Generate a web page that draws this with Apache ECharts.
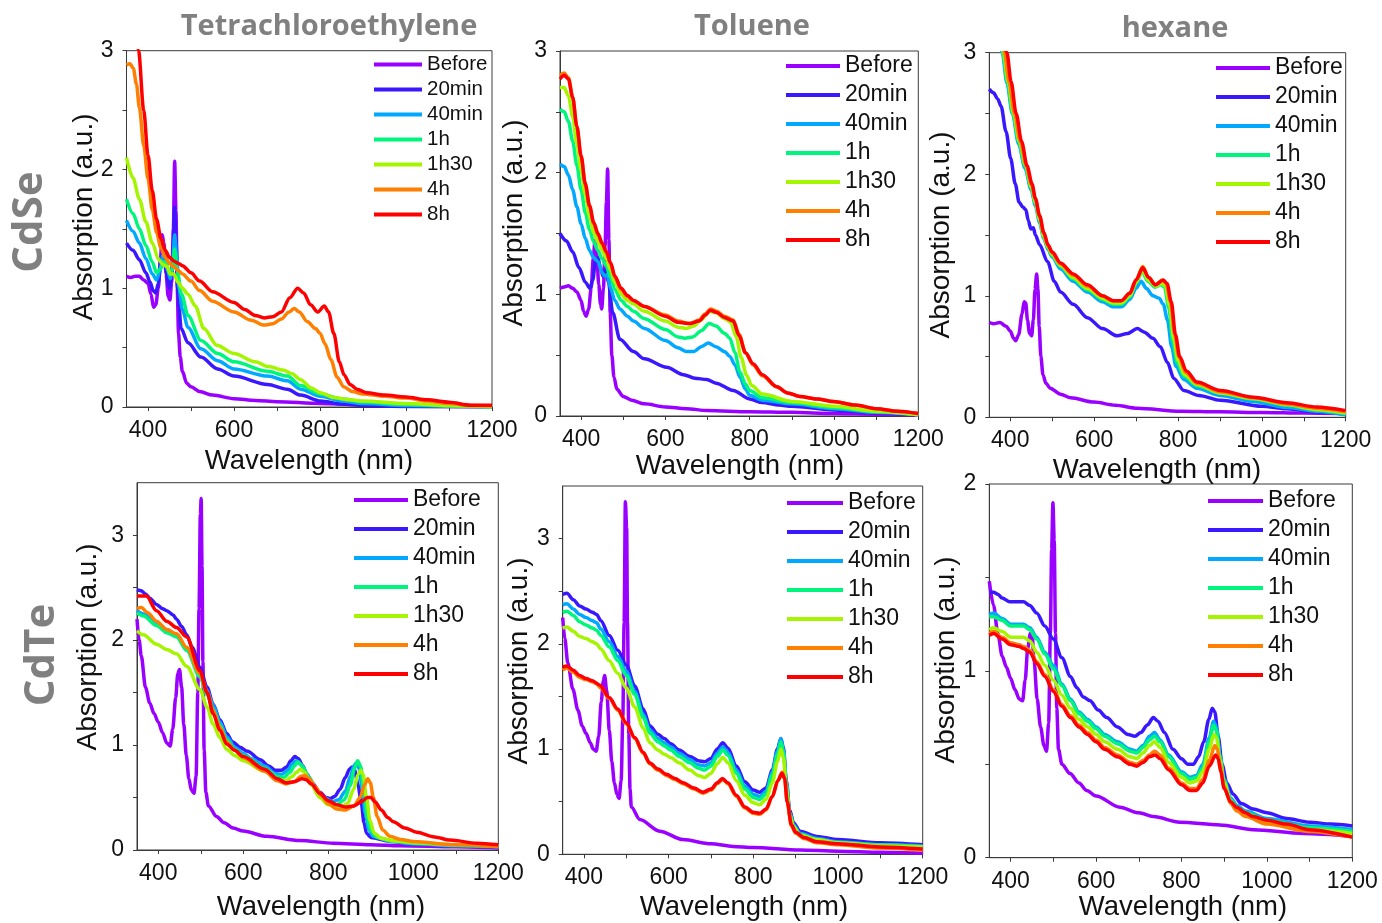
<!DOCTYPE html>
<html>
<head>
<meta charset="utf-8">
<title>Absorption spectra</title>
<script src="https://cdn.jsdelivr.net/npm/echarts@6/dist/echarts.min.js"></script>
<style>
  html, body { margin: 0; padding: 0; background: #fff; }
  #chart { width: 1382px; height: 923px; }
</style>
</head>
<body>
<div id="chart"></div>
<script>
// Series labels and colours (time after exposure)
const SERIES_NAMES = ['Before', '20min', '40min', '1h', '1h30', '4h', '8h'];
const COLORS = ['#9a00ff', '#3a18ff', '#00a8ff', '#00f57c', '#a6f500', '#ff7f00', '#ff0000'];

// Axis ticks
const X_LABELS = [400, 600, 800, 1000, 1200];
const X_TICKS = [400, 500, 600, 700, 800, 900, 1000, 1100, 1200];
const Y_LABELS_3 = [0, 1, 2, 3];
const Y_TICKS_3 = [0, 0.5, 1, 1.5, 2, 2.5, 3];
const Y_LABELS_2 = [0, 1, 2];
const Y_TICKS_2 = [0, 0.5, 1, 1.5, 2];

const ROW_TITLES = ['CdSe', 'CdTe'];
const COL_TITLES = ['Tetrachloroethylene', 'Toluene', 'hexane'];

// Spectra: each series is a flat list of (wavelength nm, absorption) pairs.
// CdSe in tetrachloroethylene
const cdseTce = [
  [350,1.1, 360,1.09, 370,1.1, 380,1.1, 390,1.07, 400,1.04, 407,0.95, 413,0.84, 418,0.86, 424,1.0, 429,1.25, 433,1.45, 437,1.38, 442,1.12, 447,0.93, 451,0.9, 455,1.05, 459,1.5, 462,2.07, 465,1.65, 468,1.0, 471,0.62, 475,0.42, 480,0.3, 490,0.2, 500,0.17, 520,0.13, 550,0.1, 600,0.07, 650,0.055, 700,0.045, 800,0.03, 900,0.02, 1000,0.015, 1200,0.01],
  [350,1.38, 365,1.32, 380,1.24, 395,1.13, 405,1.05, 412,0.98, 418,0.96, 424,1.04, 430,1.22, 435,1.3, 440,1.25, 445,1.08, 450,1.0, 455,1.1, 459,1.35, 462,1.68, 465,1.4, 470,0.95, 477,0.66, 493,0.54, 523,0.42, 562,0.32, 600,0.26, 678,0.19, 724,0.15, 755,0.1, 801,0.05, 850,0.025, 900,0.012, 1000,0.004, 1200,0],
  [350,1.57, 365,1.48, 380,1.38, 395,1.25, 410,1.12, 420,1.07, 428,1.15, 435,1.28, 440,1.27, 446,1.15, 452,1.08, 457,1.18, 462,1.45, 466,1.3, 472,1.0, 480,0.82, 493,0.67, 523,0.49, 562,0.39, 600,0.32, 678,0.26, 724,0.22, 755,0.15, 801,0.09, 850,0.05, 900,0.03, 1000,0.012, 1200,0],
  [350,1.75, 365,1.63, 380,1.5, 395,1.36, 410,1.22, 420,1.13, 428,1.16, 436,1.22, 442,1.22, 450,1.12, 456,1.15, 462,1.33, 468,1.15, 478,0.95, 493,0.77, 523,0.56, 562,0.45, 600,0.38, 678,0.3, 724,0.26, 755,0.18, 801,0.11, 850,0.07, 900,0.045, 1000,0.02, 1100,0.008, 1200,0],
  [350,2.1, 365,1.93, 380,1.75, 395,1.56, 410,1.38, 425,1.24, 435,1.2, 445,1.18, 452,1.12, 460,1.12, 470,1.05, 480,1.0, 493,0.95, 510,0.85, 530,0.66, 560,0.52, 600,0.45, 650,0.38, 680,0.34, 716,0.31, 735,0.28, 755,0.23, 780,0.16, 801,0.12, 832,0.08, 870,0.06, 900,0.05, 1000,0.03, 1100,0.012, 1200,0],
  [350,2.88, 358,2.89, 366,2.85, 373,2.72, 380,2.52, 390,2.2, 400,1.92, 410,1.66, 420,1.47, 430,1.34, 440,1.26, 450,1.21, 460,1.18, 470,1.15, 480,1.12, 500,1.06, 520,0.98, 550,0.89, 600,0.8, 640,0.73, 670,0.69, 690,0.7, 710,0.74, 728,0.8, 740,0.83, 752,0.8, 770,0.72, 790,0.66, 800,0.62, 812,0.53, 825,0.4, 840,0.25, 855,0.17, 875,0.13, 900,0.11, 950,0.09, 1000,0.075, 1050,0.05, 1100,0.03, 1150,0.012, 1200,0.01],
  [365,3.3, 378,3.0, 390,2.5, 400,2.12, 410,1.82, 420,1.58, 430,1.42, 440,1.32, 450,1.26, 460,1.23, 470,1.21, 480,1.19, 500,1.13, 520,1.06, 550,0.97, 600,0.88, 625,0.82, 650,0.77, 670,0.75, 690,0.76, 710,0.8, 730,0.92, 748,1.0, 762,0.96, 778,0.86, 795,0.8, 810,0.85, 820,0.8, 832,0.62, 845,0.38, 856,0.27, 870,0.19, 886,0.15, 909,0.12, 950,0.1, 1000,0.085, 1050,0.06, 1100,0.04, 1150,0.015, 1200,0.015]
];

// CdSe in toluene
const cdseTol = [
  [350,1.05, 360,1.06, 370,1.07, 380,1.05, 390,1.02, 400,0.95, 406,0.86, 412,0.82, 418,0.88, 424,1.05, 429,1.3, 433,1.44, 437,1.33, 442,1.08, 446,0.92, 449,0.88, 453,1.05, 457,1.4, 460,1.75, 463,2.03, 466,1.45, 469,0.85, 473,0.5, 478,0.32, 485,0.22, 500,0.16, 520,0.13, 550,0.1, 600,0.075, 650,0.06, 700,0.045, 800,0.035, 900,0.03, 1000,0.02, 1100,0.015, 1200,0.01],
  [350,1.5, 365,1.44, 380,1.35, 395,1.22, 410,1.1, 421,1.05, 428,1.12, 434,1.28, 440,1.3, 446,1.22, 452,1.15, 458,1.2, 465,1.1, 475,0.85, 492,0.63, 524,0.53, 550,0.47, 603,0.4, 643,0.34, 670,0.31, 698,0.3, 720,0.27, 761,0.21, 800,0.14, 830,0.11, 870,0.09, 900,0.08, 1000,0.05, 1100,0.025, 1200,0.01],
  [350,2.07, 360,2.05, 370,1.98, 380,1.86, 390,1.72, 400,1.58, 410,1.46, 420,1.36, 430,1.3, 440,1.27, 450,1.18, 456,1.15, 462,1.16, 470,1.05, 480,0.95, 492,0.88, 510,0.82, 524,0.78, 550,0.72, 600,0.62, 630,0.56, 650,0.53, 668,0.53, 685,0.57, 702,0.6, 720,0.57, 740,0.53, 753,0.49, 765,0.42, 777,0.32, 790,0.22, 800,0.17, 830,0.13, 900,0.1, 1000,0.06, 1100,0.03, 1200,0.01],
  [350,2.52, 360,2.5, 370,2.42, 380,2.26, 390,2.06, 400,1.86, 410,1.67, 420,1.53, 430,1.43, 440,1.36, 450,1.29, 460,1.23, 470,1.14, 480,1.04, 495,0.95, 510,0.9, 524,0.86, 550,0.8, 600,0.71, 630,0.65, 646,0.64, 665,0.65, 685,0.7, 704,0.76, 720,0.74, 740,0.68, 753,0.64, 765,0.52, 777,0.36, 790,0.26, 800,0.21, 830,0.15, 900,0.11, 1000,0.07, 1100,0.035, 1200,0.01],
  [350,2.7, 360,2.7, 370,2.63, 380,2.46, 390,2.24, 400,2.02, 410,1.82, 420,1.64, 430,1.51, 440,1.43, 450,1.36, 460,1.29, 470,1.2, 480,1.1, 495,1.0, 510,0.95, 524,0.92, 550,0.86, 600,0.78, 630,0.73, 650,0.72, 668,0.74, 685,0.79, 704,0.86, 720,0.85, 740,0.8, 755,0.77, 768,0.65, 780,0.48, 792,0.34, 805,0.25, 830,0.18, 900,0.12, 1000,0.08, 1100,0.04, 1200,0.01],
  [350,2.8, 360,2.82, 370,2.78, 380,2.62, 390,2.38, 400,2.13, 410,1.9, 420,1.72, 430,1.58, 440,1.49, 450,1.41, 460,1.34, 470,1.25, 480,1.14, 495,1.04, 510,0.98, 524,0.95, 550,0.9, 600,0.83, 630,0.78, 658,0.76, 680,0.79, 695,0.84, 707,0.88, 722,0.86, 740,0.82, 761,0.79, 775,0.67, 790,0.52, 808,0.42, 830,0.33, 864,0.24, 890,0.19, 919,0.16, 960,0.14, 998,0.12, 1050,0.09, 1101,0.06, 1150,0.04, 1200,0.02],
  [350,2.77, 360,2.8, 370,2.77, 380,2.62, 390,2.38, 400,2.14, 410,1.91, 420,1.73, 430,1.59, 440,1.5, 450,1.42, 460,1.35, 470,1.26, 480,1.15, 495,1.05, 510,0.99, 524,0.95, 550,0.9, 600,0.82, 630,0.77, 658,0.76, 680,0.78, 695,0.83, 707,0.87, 722,0.85, 740,0.81, 761,0.78, 775,0.66, 790,0.52, 808,0.43, 830,0.34, 864,0.24, 890,0.19, 919,0.16, 960,0.14, 998,0.12, 1050,0.09, 1101,0.06, 1150,0.04, 1200,0.02]
];

// CdSe in hexane
const cdseHex = [
  [350,0.78, 360,0.77, 375,0.78, 390,0.75, 400,0.71, 408,0.65, 413,0.63, 420,0.68, 428,0.85, 433,0.95, 437,0.94, 441,0.8, 446,0.69, 451,0.67, 455,0.8, 459,1.05, 463,1.18, 466,1.05, 469,0.75, 473,0.5, 478,0.35, 485,0.28, 495,0.24, 520,0.19, 544,0.16, 600,0.125, 650,0.1, 703,0.075, 806,0.05, 900,0.045, 1000,0.04, 1100,0.035, 1200,0.03],
  [350,2.7, 360,2.67, 370,2.62, 378,2.56, 390,2.35, 401,2.13, 412,1.92, 421,1.77, 430,1.73, 437,1.71, 443,1.62, 449,1.55, 455,1.56, 460,1.5, 470,1.42, 489,1.28, 505,1.12, 520,1.03, 550,0.93, 584,0.82, 620,0.73, 655,0.67, 680,0.69, 703,0.73, 720,0.7, 740,0.65, 758,0.58, 775,0.45, 790,0.32, 814,0.22, 850,0.18, 901,0.14, 1000,0.09, 1060,0.07, 1130,0.045, 1200,0.025],
  [360,3.45, 372,3.2, 381,3.0, 392,2.75, 405,2.5, 420,2.25, 435,2.05, 450,1.87, 460,1.74, 470,1.6, 480,1.47, 490,1.38, 500,1.32, 520,1.22, 550,1.12, 584,1.03, 620,0.95, 645,0.91, 665,0.91, 685,0.97, 700,1.06, 712,1.12, 725,1.06, 740,1.0, 755,0.98, 765,0.93, 775,0.8, 785,0.58, 795,0.42, 814,0.31, 845,0.24, 901,0.18, 980,0.13, 1060,0.08, 1130,0.05, 1200,0.02],
  [360,3.48, 372,3.22, 382,3.0, 393,2.76, 406,2.5, 420,2.27, 435,2.07, 450,1.89, 460,1.76, 470,1.62, 480,1.48, 490,1.39, 500,1.33, 520,1.24, 550,1.14, 584,1.05, 620,0.97, 645,0.93, 665,0.93, 685,0.99, 700,1.1, 714,1.2, 728,1.12, 745,1.07, 760,1.09, 768,1.07, 778,0.9, 788,0.62, 798,0.45, 814,0.34, 845,0.26, 901,0.2, 980,0.15, 1060,0.1, 1130,0.06, 1200,0.03],
  [362,3.48, 374,3.22, 384,3.0, 395,2.76, 408,2.5, 422,2.27, 437,2.07, 450,1.9, 460,1.77, 470,1.63, 480,1.49, 490,1.4, 500,1.34, 520,1.25, 550,1.15, 584,1.06, 620,0.98, 645,0.94, 665,0.94, 685,1.0, 700,1.11, 715,1.21, 729,1.13, 746,1.08, 762,1.1, 770,1.08, 780,0.92, 790,0.65, 800,0.47, 816,0.35, 845,0.27, 901,0.2, 980,0.155, 1060,0.105, 1130,0.065, 1200,0.035],
  [364,3.48, 376,3.22, 386,3.0, 397,2.76, 410,2.5, 424,2.27, 438,2.07, 451,1.91, 460,1.79, 470,1.65, 480,1.51, 490,1.41, 500,1.35, 520,1.26, 550,1.17, 584,1.08, 620,1.0, 645,0.96, 665,0.96, 685,1.02, 700,1.13, 716,1.24, 730,1.15, 746,1.09, 763,1.13, 772,1.1, 782,0.95, 792,0.68, 802,0.5, 818,0.37, 845,0.28, 901,0.21, 980,0.16, 1060,0.11, 1130,0.075, 1200,0.045],
  [366,3.48, 378,3.22, 392,3.0, 402,2.76, 414,2.5, 427,2.27, 440,2.07, 452,1.92, 460,1.8, 470,1.66, 480,1.52, 490,1.42, 500,1.36, 520,1.27, 550,1.18, 584,1.09, 620,1.0, 645,0.96, 665,0.96, 685,1.02, 700,1.13, 716,1.23, 730,1.15, 746,1.09, 765,1.13, 774,1.1, 784,0.95, 794,0.68, 804,0.5, 820,0.38, 845,0.29, 901,0.22, 980,0.165, 1060,0.12, 1130,0.085, 1200,0.055]
];

// CdTe in tetrachloroethylene
const cdteTce = [
  [350,2.2, 355,2.0, 360,1.85, 370,1.55, 380,1.4, 390,1.3, 400,1.22, 410,1.12, 420,1.02, 428,0.99, 434,1.15, 441,1.45, 446,1.68, 450,1.72, 455,1.55, 460,1.2, 466,0.9, 472,0.68, 478,0.57, 484,0.54, 489,0.7, 493,1.5, 496,2.3, 499,3.2, 501,3.35, 503,2.7, 505,1.8, 508,0.95, 512,0.55, 518,0.42, 537,0.32, 555,0.26, 576,0.21, 600,0.18, 655,0.13, 733,0.09, 812,0.065, 900,0.05, 969,0.04, 1100,0.03, 1200,0.02],
  [350,2.48, 360,2.47, 370,2.44, 380,2.4, 396,2.34, 410,2.3, 420,2.28, 435,2.24, 443,2.2, 455,2.13, 467,2.05, 480,1.93, 498,1.74, 515,1.55, 529,1.39, 545,1.24, 561,1.11, 575,1.03, 592,0.98, 610,0.94, 640,0.86, 660,0.8, 675,0.76, 690,0.76, 702,0.79, 712,0.85, 721,0.89, 730,0.87, 740,0.8, 750,0.72, 762,0.64, 780,0.55, 795,0.5, 805,0.49, 815,0.51, 828,0.58, 840,0.69, 850,0.77, 856,0.79, 862,0.76, 870,0.62, 878,0.44, 884,0.26, 890,0.16, 900,0.12, 950,0.08, 1000,0.06, 1100,0.04, 1200,0.03],
  [350,2.28, 365,2.25, 396,2.17, 420,2.1, 443,2.05, 467,1.92, 498,1.68, 515,1.52, 529,1.38, 545,1.22, 561,1.08, 580,0.98, 600,0.92, 620,0.87, 650,0.8, 675,0.73, 690,0.72, 705,0.76, 715,0.82, 725,0.85, 735,0.82, 750,0.72, 770,0.58, 790,0.5, 810,0.46, 825,0.48, 840,0.56, 852,0.7, 860,0.8, 866,0.83, 872,0.78, 880,0.58, 887,0.35, 895,0.2, 905,0.13, 950,0.08, 1000,0.06, 1100,0.04, 1200,0.03],
  [350,2.26, 365,2.23, 396,2.14, 420,2.07, 443,2.03, 467,1.9, 498,1.65, 515,1.48, 529,1.34, 545,1.19, 561,1.05, 580,0.96, 600,0.9, 650,0.78, 680,0.7, 695,0.69, 710,0.74, 720,0.8, 729,0.84, 738,0.8, 755,0.69, 775,0.55, 800,0.46, 820,0.43, 838,0.48, 852,0.62, 862,0.78, 869,0.85, 876,0.8, 884,0.55, 892,0.3, 900,0.18, 915,0.12, 950,0.085, 1000,0.065, 1100,0.045, 1200,0.035],
  [350,2.09, 365,2.05, 396,1.96, 420,1.91, 443,1.87, 467,1.75, 498,1.53, 515,1.36, 529,1.2, 545,1.07, 561,0.96, 580,0.9, 600,0.85, 650,0.75, 680,0.67, 700,0.66, 715,0.7, 725,0.74, 734,0.77, 744,0.74, 760,0.62, 780,0.5, 800,0.43, 825,0.4, 845,0.44, 860,0.58, 870,0.72, 876,0.76, 882,0.72, 890,0.5, 898,0.28, 908,0.16, 925,0.11, 960,0.085, 1000,0.07, 1100,0.05, 1200,0.04],
  [350,2.3, 360,2.31, 375,2.26, 396,2.18, 420,2.1, 443,2.06, 467,1.93, 498,1.68, 515,1.5, 529,1.33, 545,1.17, 561,1.03, 580,0.95, 600,0.88, 650,0.75, 680,0.66, 700,0.63, 720,0.65, 735,0.7, 745,0.71, 755,0.68, 770,0.6, 785,0.51, 800,0.44, 820,0.39, 840,0.38, 860,0.42, 875,0.5, 885,0.62, 893,0.68, 899,0.64, 906,0.5, 915,0.32, 928,0.19, 945,0.13, 970,0.1, 1000,0.08, 1100,0.05, 1200,0.03],
  [350,2.42, 372,2.42, 396,2.28, 420,2.18, 443,2.12, 467,2.03, 498,1.71, 515,1.5, 529,1.3, 545,1.14, 561,1.01, 580,0.95, 600,0.89, 650,0.77, 680,0.68, 700,0.64, 720,0.65, 738,0.68, 748,0.67, 760,0.63, 780,0.54, 800,0.47, 820,0.43, 840,0.41, 860,0.42, 878,0.46, 892,0.5, 900,0.5, 910,0.46, 925,0.38, 940,0.31, 953,0.27, 980,0.21, 1008,0.17, 1050,0.125, 1086,0.095, 1150,0.065, 1200,0.05]
];

// CdTe in toluene
const cdteTol = [
  [350,2.25, 355,2.05, 362,1.82, 374,1.57, 386,1.37, 396,1.22, 405,1.15, 415,1.06, 422,1.0, 429,0.98, 435,1.12, 441,1.45, 446,1.65, 449,1.7, 454,1.55, 460,1.18, 466,0.88, 472,0.68, 478,0.57, 483,0.53, 488,0.7, 492,1.3, 495,2.2, 498,3.35, 501,3.1, 503,2.2, 506,1.15, 509,0.62, 512,0.45, 532,0.33, 579,0.22, 634,0.14, 700,0.1, 752,0.075, 800,0.065, 910,0.04, 1000,0.03, 1100,0.02, 1200,0.01],
  [350,2.47, 360,2.48, 375,2.42, 390,2.36, 405,2.33, 420,2.3, 430,2.28, 440,2.22, 460,2.08, 480,1.94, 500,1.8, 520,1.6, 540,1.38, 556,1.22, 575,1.14, 590,1.1, 605,1.05, 625,0.99, 650,0.93, 670,0.89, 685,0.88, 700,0.91, 715,1.0, 728,1.06, 740,1.01, 760,0.84, 780,0.69, 800,0.61, 815,0.59, 830,0.63, 845,0.8, 857,1.0, 865,1.1, 871,1.02, 878,0.7, 886,0.42, 895,0.3, 910,0.22, 950,0.17, 1000,0.14, 1100,0.11, 1200,0.09],
  [350,2.37, 360,2.38, 375,2.33, 390,2.28, 405,2.25, 420,2.22, 430,2.2, 440,2.14, 460,2.02, 480,1.88, 500,1.74, 520,1.55, 540,1.33, 556,1.18, 575,1.1, 590,1.06, 605,1.02, 625,0.96, 650,0.9, 670,0.85, 685,0.84, 700,0.87, 715,0.96, 728,1.02, 740,0.97, 760,0.8, 780,0.65, 800,0.57, 815,0.55, 830,0.6, 845,0.78, 857,0.98, 865,1.1, 871,1.0, 878,0.68, 886,0.4, 895,0.28, 910,0.2, 950,0.15, 1000,0.12, 1100,0.09, 1200,0.08],
  [350,2.3, 360,2.31, 375,2.27, 390,2.21, 405,2.18, 420,2.15, 430,2.13, 440,2.08, 460,1.97, 480,1.84, 500,1.7, 520,1.52, 540,1.3, 556,1.15, 575,1.07, 590,1.03, 605,0.99, 625,0.93, 650,0.87, 670,0.82, 685,0.8, 700,0.84, 715,0.93, 728,0.99, 740,0.94, 760,0.77, 780,0.62, 800,0.54, 815,0.52, 830,0.57, 845,0.75, 857,0.95, 865,1.07, 871,0.98, 878,0.66, 886,0.39, 895,0.27, 910,0.19, 950,0.14, 1000,0.11, 1100,0.09, 1200,0.07],
  [350,2.15, 360,2.16, 375,2.12, 390,2.07, 405,2.05, 420,2.02, 430,2.0, 440,1.95, 460,1.84, 480,1.72, 500,1.58, 520,1.4, 540,1.2, 556,1.06, 575,0.99, 590,0.95, 605,0.92, 625,0.87, 650,0.8, 670,0.75, 685,0.73, 700,0.77, 715,0.86, 728,0.92, 740,0.87, 760,0.7, 780,0.56, 800,0.49, 815,0.47, 830,0.52, 845,0.68, 857,0.88, 865,1.0, 871,0.92, 878,0.62, 886,0.37, 895,0.26, 910,0.18, 950,0.14, 1000,0.11, 1100,0.08, 1200,0.07],
  [350,1.75, 360,1.77, 375,1.73, 390,1.68, 405,1.66, 420,1.64, 430,1.62, 440,1.58, 460,1.48, 480,1.37, 500,1.24, 520,1.1, 540,0.96, 556,0.86, 575,0.8, 595,0.75, 615,0.71, 634,0.67, 660,0.62, 681,0.58, 700,0.61, 715,0.67, 728,0.71, 740,0.67, 760,0.55, 780,0.44, 800,0.39, 815,0.38, 830,0.42, 845,0.55, 858,0.7, 868,0.78, 874,0.72, 880,0.5, 890,0.27, 900,0.2, 920,0.15, 950,0.11, 1000,0.09, 1100,0.06, 1200,0.04],
  [350,1.78, 360,1.79, 375,1.75, 390,1.7, 405,1.67, 420,1.65, 437,1.61, 460,1.49, 480,1.38, 500,1.25, 520,1.11, 540,0.97, 555,0.87, 575,0.81, 595,0.76, 615,0.72, 634,0.68, 660,0.63, 681,0.59, 700,0.62, 715,0.68, 727,0.72, 740,0.68, 760,0.56, 780,0.45, 800,0.4, 815,0.39, 830,0.43, 845,0.55, 858,0.7, 868,0.77, 874,0.72, 880,0.5, 890,0.28, 900,0.21, 920,0.16, 950,0.12, 1000,0.1, 1100,0.07, 1200,0.05]
];

// CdTe in hexane
const cdteHex = [
  [350,1.48, 360,1.35, 370,1.2, 380,1.08, 390,1.02, 400,0.96, 410,0.9, 420,0.85, 428,0.84, 434,0.95, 440,1.12, 446,1.2, 450,1.2, 455,1.05, 462,0.85, 470,0.7, 478,0.6, 484,0.57, 489,0.72, 493,1.2, 496,1.65, 499,1.9, 502,1.7, 505,1.2, 508,0.8, 512,0.58, 520,0.5, 539,0.45, 560,0.4, 578,0.36, 600,0.33, 656,0.27, 700,0.24, 734,0.22, 796,0.19, 890,0.175, 968,0.15, 1085,0.13, 1200,0.115],
  [350,1.42, 360,1.42, 370,1.41, 380,1.39, 398,1.37, 415,1.37, 430,1.37, 445,1.35, 461,1.31, 480,1.24, 500,1.17, 520,1.07, 540,0.97, 555,0.91, 570,0.86, 586,0.84, 605,0.79, 625,0.75, 650,0.7, 675,0.66, 691,0.65, 705,0.67, 720,0.71, 734,0.75, 745,0.73, 760,0.67, 780,0.58, 800,0.53, 815,0.5, 828,0.5, 840,0.54, 852,0.62, 864,0.74, 872,0.8, 878,0.78, 886,0.65, 895,0.5, 906,0.4, 921,0.34, 940,0.29, 968,0.26, 1000,0.24, 1046,0.21, 1100,0.19, 1150,0.18, 1200,0.17],
  [350,1.3, 360,1.31, 380,1.28, 400,1.25, 420,1.25, 430,1.25, 445,1.23, 461,1.18, 480,1.1, 500,1.03, 520,0.93, 540,0.85, 560,0.78, 580,0.74, 600,0.7, 620,0.66, 650,0.62, 680,0.58, 695,0.57, 710,0.6, 725,0.65, 737,0.67, 750,0.63, 770,0.55, 800,0.46, 820,0.43, 835,0.44, 850,0.5, 865,0.64, 875,0.73, 882,0.7, 890,0.55, 900,0.42, 915,0.32, 930,0.28, 950,0.25, 1000,0.21, 1100,0.17, 1200,0.15],
  [350,1.29, 360,1.29, 380,1.27, 400,1.24, 420,1.24, 430,1.24, 445,1.22, 461,1.17, 480,1.09, 500,1.01, 520,0.92, 540,0.84, 560,0.77, 580,0.73, 600,0.69, 620,0.65, 650,0.61, 680,0.57, 695,0.56, 710,0.59, 725,0.63, 737,0.65, 750,0.62, 770,0.54, 800,0.45, 820,0.42, 835,0.43, 850,0.48, 865,0.62, 875,0.71, 882,0.68, 890,0.54, 900,0.41, 915,0.31, 930,0.27, 950,0.24, 1000,0.2, 1100,0.16, 1200,0.14],
  [350,1.22, 360,1.23, 380,1.21, 400,1.18, 420,1.18, 430,1.18, 445,1.16, 461,1.1, 480,1.03, 500,0.95, 520,0.87, 540,0.8, 560,0.74, 580,0.7, 600,0.66, 620,0.62, 650,0.58, 680,0.54, 695,0.53, 710,0.56, 725,0.6, 737,0.62, 750,0.59, 770,0.51, 800,0.43, 820,0.4, 835,0.41, 850,0.46, 865,0.58, 876,0.66, 882,0.64, 890,0.52, 900,0.4, 915,0.3, 930,0.26, 950,0.23, 1000,0.19, 1100,0.15, 1200,0.13],
  [350,1.2, 360,1.21, 380,1.18, 400,1.15, 420,1.14, 430,1.13, 445,1.11, 461,1.05, 480,0.98, 500,0.9, 520,0.82, 540,0.76, 560,0.71, 580,0.67, 600,0.63, 620,0.59, 650,0.55, 680,0.51, 695,0.5, 710,0.52, 725,0.55, 737,0.57, 750,0.55, 770,0.48, 800,0.4, 820,0.37, 835,0.37, 850,0.42, 865,0.52, 878,0.6, 884,0.58, 890,0.5, 900,0.38, 915,0.29, 930,0.25, 950,0.22, 1000,0.18, 1100,0.14, 1200,0.11],
  [350,1.19, 360,1.2, 380,1.17, 400,1.14, 420,1.13, 430,1.12, 445,1.1, 461,1.04, 480,0.97, 500,0.89, 520,0.81, 540,0.75, 560,0.7, 580,0.66, 600,0.62, 620,0.58, 650,0.54, 680,0.5, 695,0.49, 710,0.51, 725,0.54, 738,0.55, 750,0.53, 770,0.47, 800,0.39, 820,0.36, 835,0.36, 850,0.4, 865,0.49, 880,0.55, 886,0.53, 892,0.46, 900,0.37, 915,0.3, 929,0.27, 950,0.24, 968,0.22, 1000,0.2, 1046,0.18, 1100,0.15, 1200,0.11]
];

// ---- layout ----
const FONT = "'Liberation Sans', Arial, sans-serif";
const TITLE_FONT = "'Open Sans', 'DejaVu Sans', sans-serif";

const PANELS = [
  { spectra: cdseTce, grid: { left: 126.5, top: 50.7, width: 365.5, height: 356.3 }, yMax: 3, yLabels: Y_LABELS_3, yTicks: Y_TICKS_3,
    legend: { left: 374, top: 54, iw: 48, fs: 20.5, lh: 20, gap: 4 }, xName: [309, 461], yName: [84, 217] },
  { spectra: cdseTol, grid: { left: 560, top: 51, width: 358.3, height: 365 }, yMax: 3, yLabels: Y_LABELS_3, yTicks: Y_TICKS_3,
    legend: { left: 786, top: 54, iw: 54, fs: 23, lh: 24, gap: 5 }, xName: [740, 466], yName: [514, 223] },
  { spectra: cdseHex, grid: { left: 989.3, top: 52.7, width: 356.4, height: 364.6 }, yMax: 3, yLabels: Y_LABELS_3, yTicks: Y_TICKS_3,
    legend: { left: 1216, top: 56, iw: 54, fs: 23, lh: 24, gap: 5 }, xName: [1157, 470], yName: [941, 235] },
  { spectra: cdteTce, grid: { left: 137, top: 482.7, width: 361.3, height: 367.3 }, yMax: 3.5, yLabels: Y_LABELS_3, yTicks: Y_TICKS_3,
    legend: { left: 354, top: 488, iw: 54, fs: 23, lh: 24, gap: 5 }, xName: [321, 907], yName: [88, 647] },
  { spectra: cdteTol, grid: { left: 562.7, top: 486, width: 360, height: 368.3 }, yMax: 3.5, yLabels: Y_LABELS_3, yTicks: Y_TICKS_3,
    legend: { left: 787, top: 491, iw: 56, fs: 23, lh: 24, gap: 5 }, xName: [744, 907], yName: [519, 661] },
  { spectra: cdteHex, grid: { left: 989.3, top: 484, width: 363, height: 373.7 }, yMax: 2, yLabels: Y_LABELS_2, yTicks: Y_TICKS_2,
    legend: { left: 1208, top: 489, iw: 55, fs: 23, lh: 24, gap: 5 }, xName: [1183, 907], yName: [946, 660] }
];

function toPairs(flat) {
  const out = [];
  for (let i = 0; i < flat.length; i += 2) out.push([flat[i], flat[i + 1]]);
  return out;
}
const plainNumber = (v) => String(v);

const grids = [], xAxes = [], yAxes = [], series = [], legends = [], graphics = [];

PANELS.forEach((p, k) => {
  grids.push(Object.assign({ show: true, borderColor: '#3a3a3a', borderWidth: 1, backgroundColor: 'transparent', containLabel: false }, p.grid));
  xAxes.push({
    type: 'value', gridIndex: k, min: 350, max: 1200,
    axisLine: { show: true, onZero: false, lineStyle: { color: '#3a3a3a', width: 1 } },
    axisTick: { show: true, customValues: X_TICKS, length: 4, inside: false, lineStyle: { color: '#3a3a3a' } },
    axisLabel: { customValues: X_LABELS, formatter: plainNumber, fontSize: 23, color: '#111', fontFamily: FONT, margin: 12 },
    splitLine: { show: false }
  });
  yAxes.push({
    type: 'value', gridIndex: k, min: 0, max: p.yMax,
    axisLine: { show: true, onZero: false, lineStyle: { color: '#3a3a3a', width: 1 } },
    axisTick: { show: true, customValues: p.yTicks, length: 4, inside: false, lineStyle: { color: '#3a3a3a' } },
    axisLabel: { customValues: p.yLabels, formatter: plainNumber, fontSize: 23, color: '#111', fontFamily: FONT, margin: 13 },
    splitLine: { show: false }
  });
  p.spectra.forEach((flat, i) => {
    series.push({
      type: 'line', name: SERIES_NAMES[i], xAxisIndex: k, yAxisIndex: k,
      data: toPairs(flat), showSymbol: false, symbol: 'none',
      smooth: 0.3, smoothMonotone: 'x', clip: true, z: 2 + i,
      lineStyle: { width: 3.5, color: COLORS[i] }, itemStyle: { color: COLORS[i] },
      emphasis: { disabled: true }
    });
  });
  legends.push({
    orient: 'vertical', left: p.legend.left, top: p.legend.top, padding: 0,
    itemWidth: p.legend.iw, itemHeight: 4, itemGap: p.legend.gap,
    icon: 'rect', selectedMode: false, data: SERIES_NAMES,
    textStyle: { fontSize: p.legend.fs, lineHeight: p.legend.lh, color: '#111', fontFamily: FONT, padding: [0, 0, 0, 0] }
  });
  graphics.push({
    type: 'text', x: p.xName[0], y: p.xName[1], silent: true,
    style: { text: 'Wavelength (nm)', font: '27.5px ' + FONT, fill: '#111', align: 'center', verticalAlign: 'middle', textAlign: 'center', textVerticalAlign: 'middle' }
  });
  graphics.push({
    type: 'text', x: p.yName[0], y: p.yName[1], rotation: Math.PI / 2, silent: true,
    style: { text: 'Absorption (a.u.)', font: '28px ' + FONT, fill: '#111', align: 'center', verticalAlign: 'middle', textAlign: 'center', textVerticalAlign: 'middle' }
  });
});

// Column (solvent) and row (material) headings
const COL_POS = [[329, 27], [752, 27], [1175, 29]];
COL_TITLES.forEach((t, i) => {
  graphics.push({
    type: 'text', x: COL_POS[i][0], y: COL_POS[i][1], silent: true,
    style: { text: t, font: 'bold 29px ' + TITLE_FONT, fill: '#808080', align: 'center', verticalAlign: 'middle', textAlign: 'center', textVerticalAlign: 'middle' }
  });
});
const ROW_POS = [[30, 222], [42, 655]];
ROW_TITLES.forEach((t, i) => {
  graphics.push({
    type: 'text', x: ROW_POS[i][0], y: ROW_POS[i][1], rotation: Math.PI / 2, silent: true,
    style: { text: t, font: 'bold 42px ' + TITLE_FONT, fill: '#808080', align: 'center', verticalAlign: 'middle', textAlign: 'center', textVerticalAlign: 'middle' }
  });
});

const chart = echarts.init(document.getElementById('chart'), null, { renderer: 'canvas', width: 1382, height: 923 });
chart.setOption({
  backgroundColor: '#ffffff',
  animation: false,
  grid: grids,
  xAxis: xAxes,
  yAxis: yAxes,
  legend: legends,
  series: series,
  graphic: graphics
});
</script>
</body>
</html>
